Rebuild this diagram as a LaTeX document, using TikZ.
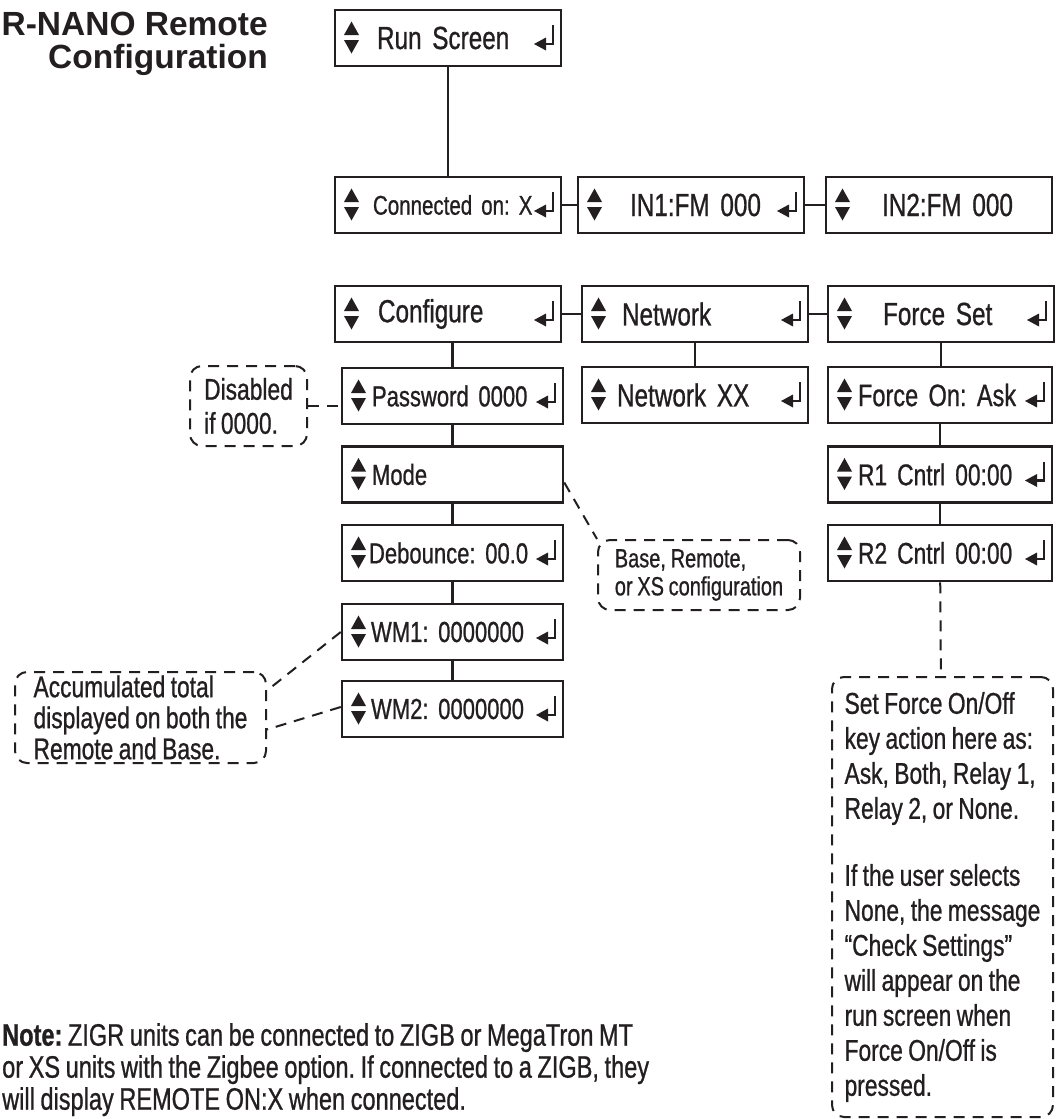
\documentclass[tikz,border=0pt]{standalone}
\usepackage{fontspec}
\setmainfont{Liberation Sans}[FakeStretch=0.76,FakeBold=0.8,WordSpace=0.85]
\newfontfamily\headfont{Liberation Sans}
\usetikzlibrary{calc}
\definecolor{ink}{HTML}{231F20}
\frenchspacing

% key symbols inside a menu box
\newcommand\keyarrows{%
  \fill[ink] ([xshift=9pt,yshift=3pt]path picture bounding box.west) -- ++(15pt,0pt) -- ++(-7.5pt,13.5pt) -- cycle;
  \fill[ink] ([xshift=9pt,yshift=-2pt]path picture bounding box.west) -- ++(15pt,0pt) -- ++(-7.5pt,-13.5pt) -- cycle;}
\newcommand\keyenter{%
  \draw[ink,line width=2.8pt] ([xshift=-8pt,yshift=13pt]path picture bounding box.east) |- ([xshift=-17pt,yshift=-6pt]path picture bounding box.east);
  \fill[ink] ([xshift=-27pt,yshift=-6pt]path picture bounding box.east) -- ++(12pt,6.5pt) -- ++(0pt,-13pt) -- cycle;}

\tikzset{
  menu/.style={draw=ink,line width=2.5pt,minimum height=56pt,text width=#1,inner xsep=0pt,align=left,text=ink},
  ind/.style={execute at begin node={\hspace*{#1}}},
  keys/.style={path picture={\keyarrows\keyenter}},
  keysonly/.style={path picture={\keyarrows}},
  big/.style={font=\fontsize{32pt}{36pt}\selectfont},
  mid/.style={font=\fontsize{30pt}{34pt}\selectfont},
  small/.style={font=\fontsize{29pt}{32pt}\selectfont},
  remark/.style={draw=ink,line width=2pt,dash pattern=on 11pt off 8pt,rounded corners=12pt,align=left,text=ink,inner sep=0pt,font=\fontsize{30pt}{34pt}\selectfont},
  wire/.style={draw=ink,line width=2.5pt},
  hint/.style={draw=ink,line width=2pt,dash pattern=on 11pt off 8pt}
}

\begin{document}
\begin{tikzpicture}[x=1pt,y=-1pt]
\useasboundingbox (0,0) rectangle (1055,1119);

% title
\node[anchor=north east,inner sep=0pt,align=right,text=ink,font=\headfont\bfseries\fontsize{33.5pt}{33pt}\selectfont] (title) at (268,12) {R-NANO Remote\\Configuration};

% run screen and inputs
\node[menu=226pt,keys,big,ind=42pt] (run) at (448,38) {Run Screen};
\node[menu=226pt,keys,font=\fontsize{27pt}{32pt}\selectfont,ind=38pt] (conn) at (448,205) {Connected on: X};
\node[menu=226pt,keys,big,ind=52pt] (in1) at (691,205) {IN1:FM 000};
\node[menu=226pt,keysonly,big,ind=56pt] (in2) at (939,205) {IN2:FM 000};
\draw[wire] (run) -- (conn);
\draw[wire] (conn) -- (in1);
\draw[wire] (in1) -- (in2);

% menus
\node[menu=226pt,keys,big,ind=43pt] (conf) at (448,314) {Configure};
\node[menu=226pt,keys,big,ind=40pt] (net) at (695,314) {Network};
\node[menu=226pt,keys,big,ind=55pt] (force) at (941,314) {Force Set};
\draw[wire] (conf) -- (net);
\draw[wire] (net) -- (force);

% configure column
\node[menu=221pt,keys,small,ind=30pt] (pass) at (452.5,396) {Password 0000};
\node[menu=221pt,keysonly,small,ind=30pt] (mode) at (452.5,474.5) {Mode};
\node[menu=221pt,keys,small,ind=27pt] (deb) at (452.5,553) {Debounce: 00.0};
\node[menu=221pt,keys,small,ind=29pt] (wm1) at (452.5,632) {WM1: 0000000};
\node[menu=221pt,keys,small,ind=29pt] (wm2) at (452.5,709) {WM2: 0000000};
\draw[wire] (pass.north) -- (pass.north |- conf.south);
\draw[wire] (pass) -- (mode);
\draw[wire] (mode) -- (deb);
\draw[wire] (deb) -- (wm1);
\draw[wire] (wm1) -- (wm2);

% network column
\node[menu=226pt,keys,big,ind=35pt] (netxx) at (695,395) {Network XX};
\draw[wire] (net) -- (netxx);

% force set column
\node[menu=224pt,keys,font=\fontsize{31pt}{34pt}\selectfont,ind=30pt] (fon) at (940,395) {Force On: Ask};
\node[menu=224pt,keys,mid,ind=30pt] (r1) at (940,474.5) {R1 Cntrl 00:00};
\node[menu=224pt,keys,mid,ind=30pt] (r2) at (940,553) {R2 Cntrl 00:00};
\draw[wire] (force.south) -- (force.south |- fon.north);
\draw[wire] (fon) -- (r1);
\draw[wire] (r1) -- (r2);

% remarks
\node[remark,minimum width=117pt,minimum height=80pt] (dis) at (248.5,406) {Disabled\\if 0000.};
\draw[hint] (dis.east) -- (dis.east -| pass.west);
\node[remark,minimum width=202pt,minimum height=70pt,font=\fontsize{26.3pt}{28pt}\selectfont] (base) at (699,575) {Base, Remote,\\or XS configuration};
\draw[hint] ([yshift=-8pt]mode.east) -- (base.north west);
\node[remark,minimum width=251pt,minimum height=91pt,font=\fontsize{30pt}{31pt}\selectfont] (accum) at (140.5,717.5) {Accumulated total\\displayed on both the\\Remote and Base.};
\draw[hint] (wm1.west) -- ([yshift=27pt]accum.east);
\draw[hint] ([yshift=2pt]wm2.west) -- ([yshift=-12pt]accum.east);
\node[remark,minimum width=221pt,minimum height=440pt,font=\fontsize{30pt}{35pt}\selectfont] (fnote) at (942.5,897) {Set Force On/Off\\key action here as:\\Ask, Both, Relay 1,\\Relay 2, or None.\\[32pt]If the user selects\\None, the message\\``Check Settings''\\will appear on the\\run screen when\\Force On/Off is\\pressed.};
\draw[hint] (r2) -- (fnote);

% note
\node[anchor=north west,inner sep=0pt,align=left,text=ink,font=\fontsize{31pt}{32pt}\selectfont] (note) at (2,1023) {\textbf{Note:} ZIGR units can be connected to ZIGB or MegaTron MT\\or XS units with the Zigbee option. If connected to a ZIGB, they\\will display REMOTE ON:X when connected.};
\end{tikzpicture}
\end{document}
